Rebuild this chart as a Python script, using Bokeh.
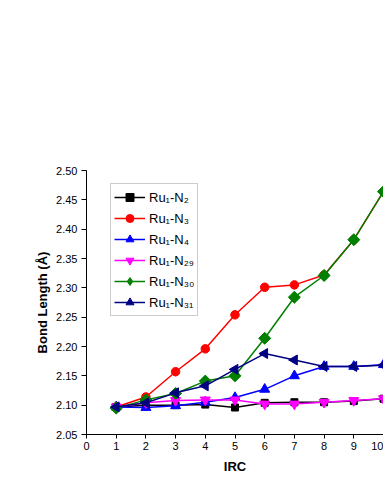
import math
from bokeh.plotting import figure
from bokeh.models import Legend, LegendItem, FixedTicker, Range1d, NumeralTickFormatter
from bokeh.embed import file_html
from bokeh.resources import INLINE

irc = [1, 2, 3, 4, 5, 6, 7, 8, 9, 10]
ru1_n2 = [2.097, 2.100, 2.100, 2.101, 2.096, 2.104, 2.105, 2.105, 2.107, 2.111]
ru1_n3 = [2.097, 2.114, 2.157, 2.196, 2.254, 2.301, 2.305, 2.322, 2.382, 2.464]
ru1_n4 = [2.097, 2.096, 2.099, 2.105, 2.113, 2.127, 2.150, 2.166, 2.166, 2.169]
ru1_n29 = [2.097, 2.104, 2.108, 2.109, 2.109, 2.102, 2.102, 2.105, 2.108, 2.111]
ru1_n30 = [2.095, 2.109, 2.120, 2.141, 2.150, 2.214, 2.284, 2.321, 2.382, 2.464]
ru1_n31 = [2.097, 2.104, 2.121, 2.133, 2.161, 2.188, 2.177, 2.166, 2.166, 2.168]

labels = ["Ru₁-N₂", "Ru₁-N₃", "Ru₁-N₄", "Ru₁-N₂₉", "Ru₁-N₃₀", "Ru₁-N₃₁"]
x_ticks = [0, 1, 2, 3, 4, 5, 6, 7, 8, 9, 10]
y_ticks = [2.05, 2.10, 2.15, 2.20, 2.25, 2.30, 2.35, 2.40, 2.45, 2.50]

FONT = "Liberation Sans"

p = figure(frame_width=297, frame_height=264, output_backend="svg", toolbar_location=None,
           x_range=Range1d(0, 10), y_range=Range1d(2.05, 2.50),
           min_border_left=86, min_border_right=0, min_border_top=170, min_border_bottom=50)
p.outline_line_color = None
p.grid.visible = False
p.background_fill_color = "white"

# (values, colour, marker, angle, size, legend marker)
series = [
    (ru1_n2, "black", "square", 0, 7, None),
    (ru1_n3, "red", "circle", 0, 8.5, None),
    (ru1_n4, "blue", "triangle", 0, 10, None),
    (ru1_n29, "magenta", "inverted_triangle", 0, 10, None),
    (ru1_n30, "green", "square", 45, 8.5, "diamond"),
    (ru1_n31, "navy", "triangle", 90, 10, None),
]

items = []
for (ys, col, mk, ang, sz, lmk), lab in zip(series, labels):
    r1 = p.line(irc, ys, line_color=col, line_width=1.5)
    rs = [r1]
    if lmk is not None:
        # smaller diamond hidden beneath the main marker, used for the legend icon
        rl = p.scatter(irc, ys, marker=lmk, size=sz * 1.25, fill_color=col, line_color=col)
        rs.append(rl)
    r2 = p.scatter(irc, ys, marker=mk, size=sz, angle=ang, angle_units="deg",
                   fill_color=col, line_color=col)
    if lmk is None:
        rs.append(r2)
    items.append(LegendItem(label=lab, renderers=rs))

legend = Legend(items=items, location=(24, 118))
legend.label_text_font = FONT
legend.label_text_font_size = "13px"
legend.label_text_color = "black"
legend.border_line_color = "#999999"
legend.border_line_width = 1
legend.padding = 3
legend.spacing = 1
legend.label_height = 20
legend.glyph_height = 20
legend.glyph_width = 31
legend.label_standoff = 4
legend.margin = 0
legend.background_fill_alpha = 1
p.add_layout(legend, "center")

for ax in (p.xaxis[0], p.yaxis[0]):
    ax.axis_line_color = "black"
    ax.major_tick_line_color = "black"
    ax.minor_tick_line_color = None
    ax.major_tick_in = 0
    ax.major_label_text_font = FONT
    ax.major_label_text_font_size = "11px"
    ax.major_label_text_color = "black"
    ax.axis_label_text_font = FONT
    ax.axis_label_text_font_style = "bold"
    ax.axis_label_text_font_size = "13px"
    ax.axis_label_text_color = "black"

p.xaxis.ticker = FixedTicker(ticks=x_ticks)
p.yaxis.ticker = FixedTicker(ticks=y_ticks)
p.yaxis.formatter = NumeralTickFormatter(format="0.00")
p.xaxis.major_tick_out = 4
p.yaxis.major_tick_out = 5
p.xaxis.major_label_standoff = 3
p.yaxis.major_label_standoff = 4
p.xaxis.axis_label = "IRC"
p.yaxis.axis_label = "Bond Length (Å)"
p.xaxis.axis_label_standoff = 6
p.yaxis.axis_label_standoff = 3

open("out.html", "w").write(file_html(p, INLINE))
